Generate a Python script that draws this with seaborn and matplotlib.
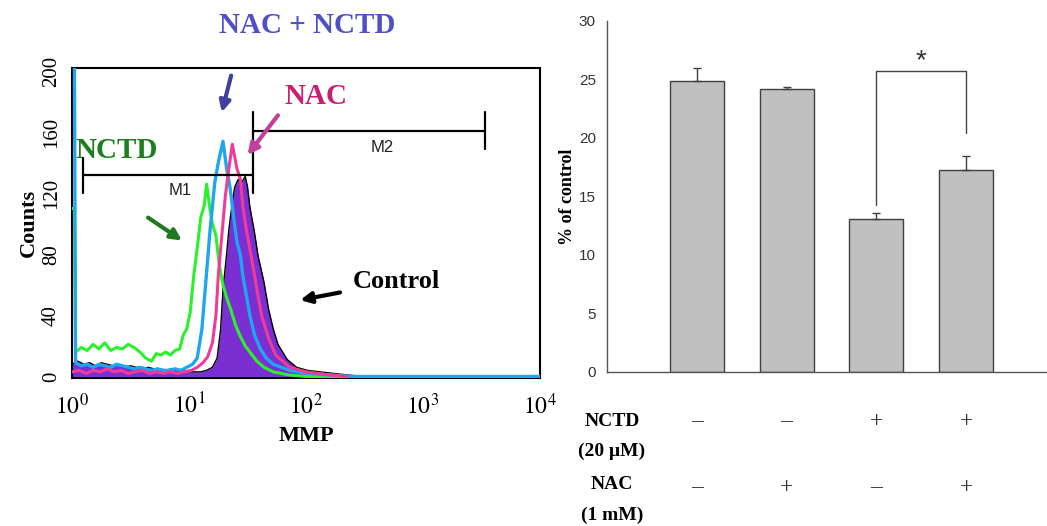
import numpy as np
import matplotlib
matplotlib.use("Agg")
import matplotlib.pyplot as plt
import matplotlib.transforms as mtransforms
from matplotlib.ticker import MultipleLocator, LogLocator, NullFormatter
import seaborn as sns

# --- flow cytometry histogram (left), x stored as log10(MMP) ---
ctrl_log = [0.00, 0.05, 0.10, 0.15, 0.20, 0.25, 0.30, 0.35, 0.40, 0.45, 0.50, 0.55, 0.60, 0.65,
            0.70, 0.75, 0.80, 0.85, 0.90, 0.95, 1.00, 1.05, 1.10, 1.15, 1.20, 1.24, 1.27, 1.29,
            1.32, 1.34, 1.37, 1.39, 1.42, 1.45, 1.48, 1.50, 1.52, 1.56, 1.59, 1.64, 1.68, 1.72,
            1.76, 1.80, 1.84, 1.92, 2.01, 2.12, 2.35, 2.50, 4.00]
ctrl_counts = [8, 10, 8, 9, 7, 9, 8, 7, 8, 6, 7, 6, 5, 6,
               5, 5, 4, 5, 4, 4, 3, 3, 3, 4, 6, 12, 31, 57,
               79, 96, 114, 124, 129, 127, 131, 124, 111, 94, 79, 62, 44, 31,
               21, 16, 11, 6, 4, 3, 1, 0, 0]

nctd_log = [0.00, 0.02, 0.03, 0.08, 0.13, 0.18, 0.23, 0.28, 0.33, 0.38, 0.43, 0.48, 0.53, 0.58,
            0.63, 0.68, 0.72, 0.76, 0.80, 0.84, 0.88, 0.92, 0.95, 0.98, 1.01, 1.04, 1.07, 1.10,
            1.13, 1.15, 1.18, 1.20, 1.23, 1.26, 1.29, 1.32, 1.36, 1.40, 1.44, 1.48, 1.53, 1.58,
            1.64, 1.72, 1.85, 2.00, 2.40]
nctd_counts = [110, 110, 16, 19, 17, 21, 18, 22, 17, 19, 18, 21, 19, 16,
               12, 10, 15, 14, 16, 14, 17, 18, 27, 31, 42, 66, 84, 104,
               112, 126, 109, 100, 92, 72, 60, 52, 43, 33, 26, 20, 15, 10,
               6, 3, 1, 0, 0]

combo_log = [0.00, 0.02, 0.03, 0.08, 0.13, 0.18, 0.23, 0.28, 0.33, 0.38, 0.43, 0.48, 0.53, 0.58,
             0.63, 0.68, 0.73, 0.78, 0.83, 0.88, 0.93, 0.98, 1.03, 1.07, 1.11, 1.15, 1.18, 1.22,
             1.25, 1.29, 1.32, 1.35, 1.38, 1.41, 1.44, 1.46, 1.49, 1.52, 1.56, 1.61, 1.66, 1.72,
             1.79, 1.86, 2.01, 2.20, 2.40, 4.00]
combo_counts = [215, 215, 9, 7, 8, 6, 8, 7, 6, 8, 7, 6, 5, 6,
                5, 4, 5, 4, 4, 5, 4, 6, 8, 12, 31, 68, 96, 127,
                140, 154, 137, 124, 105, 88, 79, 66, 53, 40, 27, 18, 12, 8,
                6, 4, 2, 1, 0, 0]

nac_log = [0.00, 0.06, 0.12, 0.18, 0.24, 0.30, 0.36, 0.42, 0.48, 0.54, 0.60, 0.66, 0.72, 0.78,
           0.84, 0.90, 0.96, 1.02, 1.07, 1.12, 1.16, 1.20, 1.23, 1.25, 1.28, 1.31, 1.34, 1.37,
           1.41, 1.44, 1.46, 1.49, 1.54, 1.58, 1.62, 1.68, 1.74, 1.86, 2.00, 2.20, 2.35]
nac_counts = [3, 4, 2, 4, 3, 5, 3, 4, 2, 3, 4, 2, 3, 2,
              3, 2, 3, 4, 6, 9, 13, 22, 40, 66, 92, 118, 136, 152,
              136, 129, 111, 96, 75, 57, 40, 25, 14, 6, 3, 1, 0]

# --- bar chart (right) ---
groups = ["Control", "NAC", "NCTD", "NCTD+NAC"]
pct_of_control = [24.9, 24.2, 13.1, 17.3]
sem = [1.1, 0.15, 0.5, 1.2]
nctd_signs = ["\u2013", "\u2013", "+", "+"]
nac_signs = ["\u2013", "+", "\u2013", "+"]

sns.set_style("white")
plt.rcParams["font.family"] = ["Liberation Serif", "DejaVu Serif"]
plt.rcParams["mathtext.fontset"] = "stix"
plt.rcParams["text.color"] = "black"

fig = plt.figure(figsize=(10.47, 5.26), dpi=100)
ax1 = fig.add_axes([0.0688, 0.2814, 0.447, 0.5894])
ax2 = fig.add_axes([0.5797, 0.2928, 0.4203, 0.6673])

# histogram overlays
ctrl_x = 10 ** np.array(ctrl_log)
ax1.fill_between(ctrl_x, ctrl_counts, color="#7a2fd2", lw=0, zorder=1)
sns.lineplot(x=ctrl_x, y=ctrl_counts, ax=ax1, color="black", lw=1.0, estimator=None, zorder=2)
sns.lineplot(x=10 ** np.array(nctd_log), y=nctd_counts, ax=ax1, color="#2df02d", lw=2.2,
             estimator=None, zorder=3)
sns.lineplot(x=10 ** np.array(combo_log), y=combo_counts, ax=ax1, color="#1ea6f0", lw=2.4,
             estimator=None, zorder=4)
sns.lineplot(x=10 ** np.array(nac_log), y=nac_counts, ax=ax1, color="#f03c96", lw=2.2,
             estimator=None, zorder=5)

ax1.set_xscale("log")
ax1.set_xlim(1, 1e4)
ax1.set_ylim(-1, 202)
ax1.set_xticks([1, 10, 100, 1000, 10000])
ax1.set_xticklabels([r"$10^0$", r"$10^1$", r"$10^2$", r"$10^3$", r"$10^4$"], fontsize=17)
ax1.xaxis.set_minor_locator(LogLocator(base=10, subs=np.arange(2, 10)))
ax1.xaxis.set_minor_formatter(NullFormatter())
ax1.set_yticks([0, 40, 80, 120, 160, 200])
ax1.set_yticklabels(["0", "40", "80", "120", "160", "200"], rotation=90, va="center", fontsize=15)
ax1.yaxis.set_minor_locator(MultipleLocator(5))
ax1.tick_params(axis="both", which="major", direction="out", length=6, width=1.5, color="black",
                labelcolor="black", pad=2)
ax1.tick_params(axis="both", which="minor", direction="out", length=4, width=1.2, color="black")
ax1.tick_params(axis="x", which="major", pad=5)
for s in ax1.spines.values():
    s.set_visible(True)
    s.set_color("black")
    s.set_linewidth(1.5)
ax1.set_xlabel("MMP", fontsize=16, fontweight="bold", labelpad=5, color="black")
ax1.set_ylabel("Counts", fontsize=16, fontweight="bold", labelpad=2, color="black")

# marker gates
ax1.plot([1.24, 35.5], [132, 132], color="black", lw=1.6, zorder=6)
ax1.plot([1.24, 1.24], [120, 143], color="black", lw=1.6, zorder=6)
ax1.plot([35.5, 35.5], [120, 173], color="black", lw=1.6, zorder=6)
ax1.plot([35.5, 3390], [161, 161], color="black", lw=1.6, zorder=6)
ax1.plot([3390, 3390], [149, 173], color="black", lw=1.6, zorder=6)
ax1.text(8.4, 122, "M1", family="Liberation Sans", fontsize=12, color="#222222", ha="center", va="center")
ax1.text(447, 150, "M2", family="Liberation Sans", fontsize=12, color="#222222", ha="center", va="center")

# labels and arrows
fig.text(0.293, 0.952, "NAC + NCTD", fontsize=21, fontweight="bold", color="#5050c4",
         ha="center", va="center")
ax1.text(122, 183, "NAC", fontsize=21, fontweight="bold", color="#c8206e", ha="center", va="center")
ax1.text(2.43, 148, "NCTD", fontsize=21, fontweight="bold", color="#1f7f1f", ha="center", va="center")
ax1.text(589, 62, "Control", fontsize=19, fontweight="bold", color="black", ha="center", va="center")
arrow_kw = dict(arrowstyle="-|>", lw=3, mutation_scale=16, shrinkA=0, shrinkB=0)
ax1.annotate("", xy=(10 ** 1.28, 173), xytext=(10 ** 1.36, 197),
             arrowprops=dict(color="#40409f", **arrow_kw), zorder=7)
ax1.annotate("", xy=(10 ** 1.50, 145), xytext=(10 ** 1.76, 171),
             arrowprops=dict(color="#c0409a", **arrow_kw), zorder=7)
ax1.annotate("", xy=(10 ** 0.94, 89), xytext=(10 ** 0.65, 104),
             arrowprops=dict(color="#1f7a1f", **arrow_kw), zorder=7)
ax1.annotate("", xy=(10 ** 1.95, 50), xytext=(10 ** 2.29, 55),
             arrowprops=dict(color="black", **arrow_kw), zorder=7)

# bar chart
sns.barplot(x=groups, y=pct_of_control, ax=ax2, color="#c0c0c0", edgecolor="#404040",
            linewidth=1, width=0.6, errorbar=None, saturation=1)
xpos = np.arange(len(groups))
ax2.errorbar(xpos, pct_of_control, yerr=[np.zeros(len(sem)), sem], fmt="none",
             ecolor="#404040", elinewidth=1, capsize=3, capthick=1)
ax2.set_xlim(-1, 3.9)
ax2.set_ylim(0, 30)
ax2.set_yticks(range(0, 31, 5))
ax2.set_yticklabels([str(v) for v in range(0, 31, 5)], family="Liberation Sans", fontsize=11,
                    color="#333333")
ax2.set_xticks(xpos)
ax2.set_xticklabels([])
ax2.tick_params(axis="both", direction="out", length=5, width=1, color="#555555", pad=3)
for side in ["top", "right"]:
    ax2.spines[side].set_visible(False)
for side in ["left", "bottom"]:
    ax2.spines[side].set_color("#555555")
    ax2.spines[side].set_linewidth(1)
ax2.set_xlabel("")
ax2.set_ylabel("% of control", fontsize=13, fontweight="bold", labelpad=2, color="black")

# significance bracket
ax2.plot([2, 2, 3, 3], [14.3, 25.75, 25.75, 20.4], color="#444444", lw=1)
ax2.text(2.5, 26.6, "*", family="Liberation Sans", fontsize=20, color="#333333",
         ha="center", va="center")

# treatment table under the bars
fig.text(0.5845, 0.198, "NCTD", fontsize=14, fontweight="bold", ha="center", va="center")
fig.text(0.5845, 0.141, "(20 \u03bcM)", fontsize=14, fontweight="bold", ha="center", va="center")
fig.text(0.5845, 0.078, "NAC", fontsize=14, fontweight="bold", ha="center", va="center")
fig.text(0.5845, 0.021, "(1 mM)", fontsize=14, fontweight="bold", ha="center", va="center")
trans = mtransforms.blended_transform_factory(ax2.transData, fig.transFigure)
for i in range(len(groups)):
    ax2.text(xpos[i], 0.198, nctd_signs[i], transform=trans, fontsize=17, color="#333333",
             ha="center", va="center")
    ax2.text(xpos[i], 0.074, nac_signs[i], transform=trans, fontsize=17, color="#333333",
             ha="center", va="center")

fig.savefig("out.png", dpi=100)
